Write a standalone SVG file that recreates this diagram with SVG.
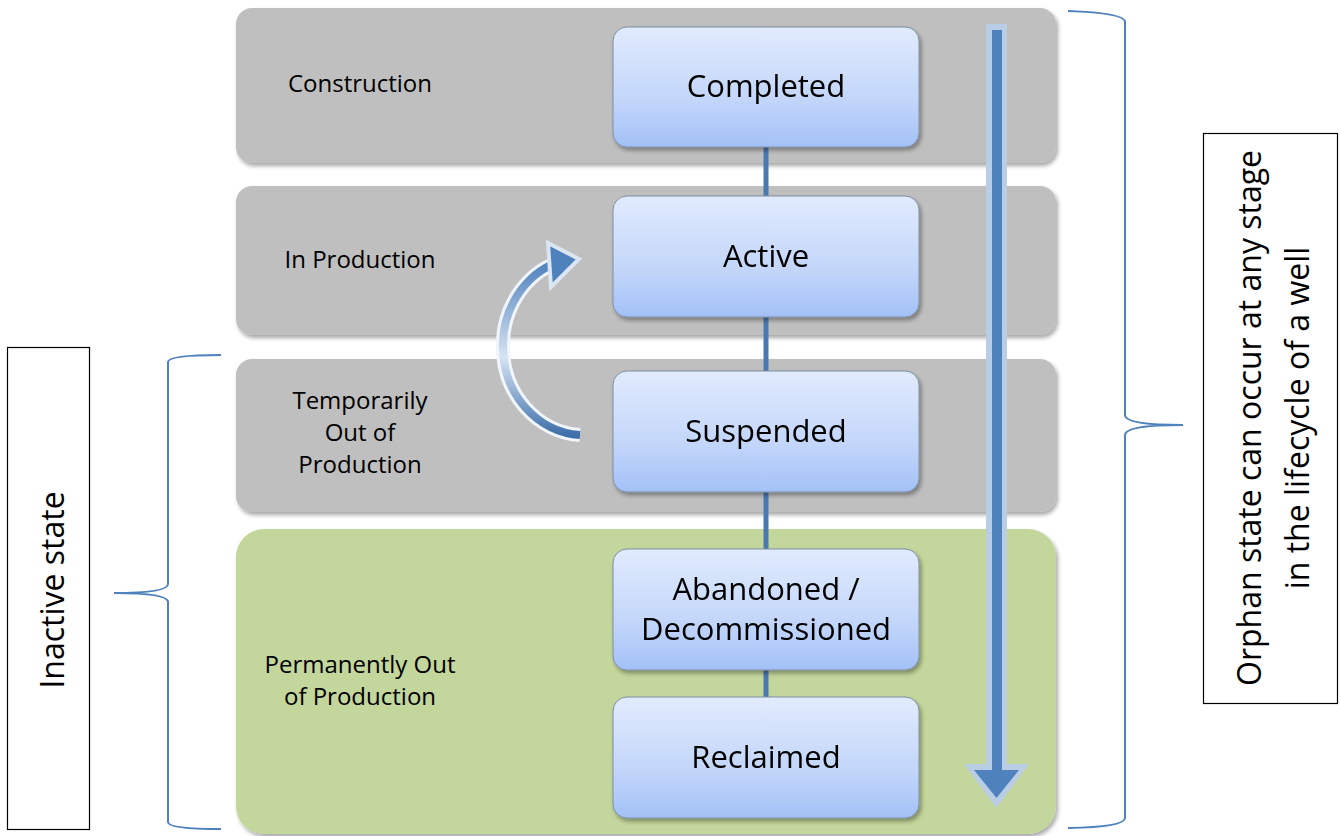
<svg xmlns="http://www.w3.org/2000/svg" width="1341" height="836" viewBox="0 0 1341 836">
<defs>
<linearGradient id="nodeGrad" x1="0" y1="0" x2="0" y2="1">
<stop offset="0" stop-color="#E1EBFD"/>
<stop offset="0.6" stop-color="#C3D6FA"/>
<stop offset="1" stop-color="#A3C1F7"/>
</linearGradient>
<linearGradient id="curveGrad" x1="0" y1="1" x2="0" y2="0">
<stop offset="0" stop-color="#3F6FAA"/>
<stop offset="0.45" stop-color="#D6E3F3"/>
<stop offset="1" stop-color="#4F81BD"/>
</linearGradient>
<filter id="shadow" x="-5%" y="-5%" width="115%" height="120%">
<feGaussianBlur in="SourceAlpha" stdDeviation="2"/>
<feOffset dx="2" dy="3" result="b"/>
<feComponentTransfer><feFuncA type="linear" slope="0.35"/></feComponentTransfer>
<feMerge><feMergeNode/><feMergeNode in="SourceGraphic"/></feMerge>
</filter>
</defs>
<style>
.band{fill:#BFBFBF;}
.green{fill:#C3D69B;}
.node{fill:url(#nodeGrad);stroke:#7F8FA6;stroke-width:1;}
.lbl{font-family:"Open Sans","Liberation Sans",sans-serif;font-size:24px;fill:#000;text-anchor:middle;}
.ntxt{font-family:"Open Sans","Liberation Sans",sans-serif;font-size:31px;fill:#000;text-anchor:middle;}
.side{font-family:"Open Sans","Liberation Sans",sans-serif;font-size:32px;fill:#000;text-anchor:middle;}
.brace{fill:none;stroke:#4F81BD;stroke-width:2;}
.conn{stroke:#4A78B0;stroke-width:5;}
</style>

<g id="bands">
<g id="band-construction" filter="url(#shadow)"><rect class="band" x="236" y="8" width="820" height="155" rx="16"/></g>
<g id="band-production" filter="url(#shadow)"><rect class="band" x="236" y="186" width="820" height="149" rx="16"/></g>
<g id="band-temporary" filter="url(#shadow)"><rect class="band" x="236" y="359" width="820" height="153" rx="16"/></g>
<g id="band-permanent" filter="url(#shadow)"><rect class="green" x="236" y="529" width="820" height="305" rx="28"/></g>
</g>

<g id="band-labels">
<text class="lbl" x="360" y="92">Construction</text>
<text class="lbl" x="360" y="268">In Production</text>
<text class="lbl" x="360" y="409">Temporarily</text>
<text class="lbl" x="360" y="441">Out of</text>
<text class="lbl" x="360" y="473">Production</text>
<text class="lbl" x="360" y="673">Permanently Out</text>
<text class="lbl" x="360" y="705">of Production</text>
</g>

<g id="connectors">
<line class="conn" x1="766" y1="147" x2="766" y2="196"/>
<line class="conn" x1="766" y1="317" x2="766" y2="371"/>
<line class="conn" x1="766" y1="492" x2="766" y2="549"/>
<line class="conn" x1="766" y1="670" x2="766" y2="697"/>
<g id="return-arrow">
<path d="M580,435 A 82 88 0 0 1 503,347 A 82 88 0 0 1 558,262" fill="none" stroke="#F0F5FB" stroke-width="14"/>
<path d="M580,435 A 82 88 0 0 1 503,347 A 82 88 0 0 1 558,262" fill="none" stroke="url(#curveGrad)" stroke-width="8"/>
<polygon points="579,259 548,243 551,287" fill="#4F81BD" stroke="#DCE6F2" stroke-width="4" stroke-linejoin="miter"/>
</g>
<g id="lifecycle-arrow">
<polygon points="986,24 1007,24 1007,764 1029,764 996.5,808 964,764 986,764" fill="#B9CDE5"/>
<polygon points="992,30 1002,30 1002,770 1019,770 996.5,798 974,770 992,770" fill="#4F81BD"/>
</g>
</g>

<g id="node-completed" filter="url(#shadow)"><rect class="node" x="613" y="27" width="306" height="120" rx="14"/><text class="ntxt" x="766" y="97">Completed</text></g>
<g id="node-active" filter="url(#shadow)"><rect class="node" x="613" y="196" width="306" height="121" rx="14"/><text class="ntxt" x="766" y="267">Active</text></g>
<g id="node-suspended" filter="url(#shadow)"><rect class="node" x="613" y="371" width="306" height="121" rx="14"/><text class="ntxt" x="766" y="442">Suspended</text></g>
<g id="node-abandoned" filter="url(#shadow)"><rect class="node" x="613" y="549" width="306" height="121" rx="14"/><text class="ntxt" x="766" y="600">Abandoned /</text><text class="ntxt" x="766" y="640">Decommissioned</text></g>
<g id="node-reclaimed" filter="url(#shadow)"><rect class="node" x="613" y="697" width="306" height="121" rx="14"/><text class="ntxt" x="766" y="768">Reclaimed</text></g>

<g id="inactive-state">
<rect x="7.5" y="347.5" width="82" height="482" fill="#fff" stroke="#000" stroke-width="1.2"/>
<text class="side" transform="translate(64,590) rotate(-90)">Inactive state</text>
<path class="brace" d="M221,355 Q168,355 168,362 L168,584 Q168,593 114,593 Q168,593 168,602 L168,822 Q168,829 221,829"/>
</g>

<g id="orphan-state">
<rect x="1203.5" y="133.5" width="134" height="570" fill="#fff" stroke="#000" stroke-width="1.2"/>
<text class="side" transform="translate(1261,418) rotate(-90)">Orphan state can occur at any stage</text>
<text class="side" transform="translate(1309,418) rotate(-90)">in the lifecycle of a well</text>
<path class="brace" d="M1068,11 Q1125,13 1125,22 L1125,415 Q1125,425 1183,425 Q1125,425 1125,435 L1125,818 Q1125,827 1068,828"/>
</g>
</svg>
